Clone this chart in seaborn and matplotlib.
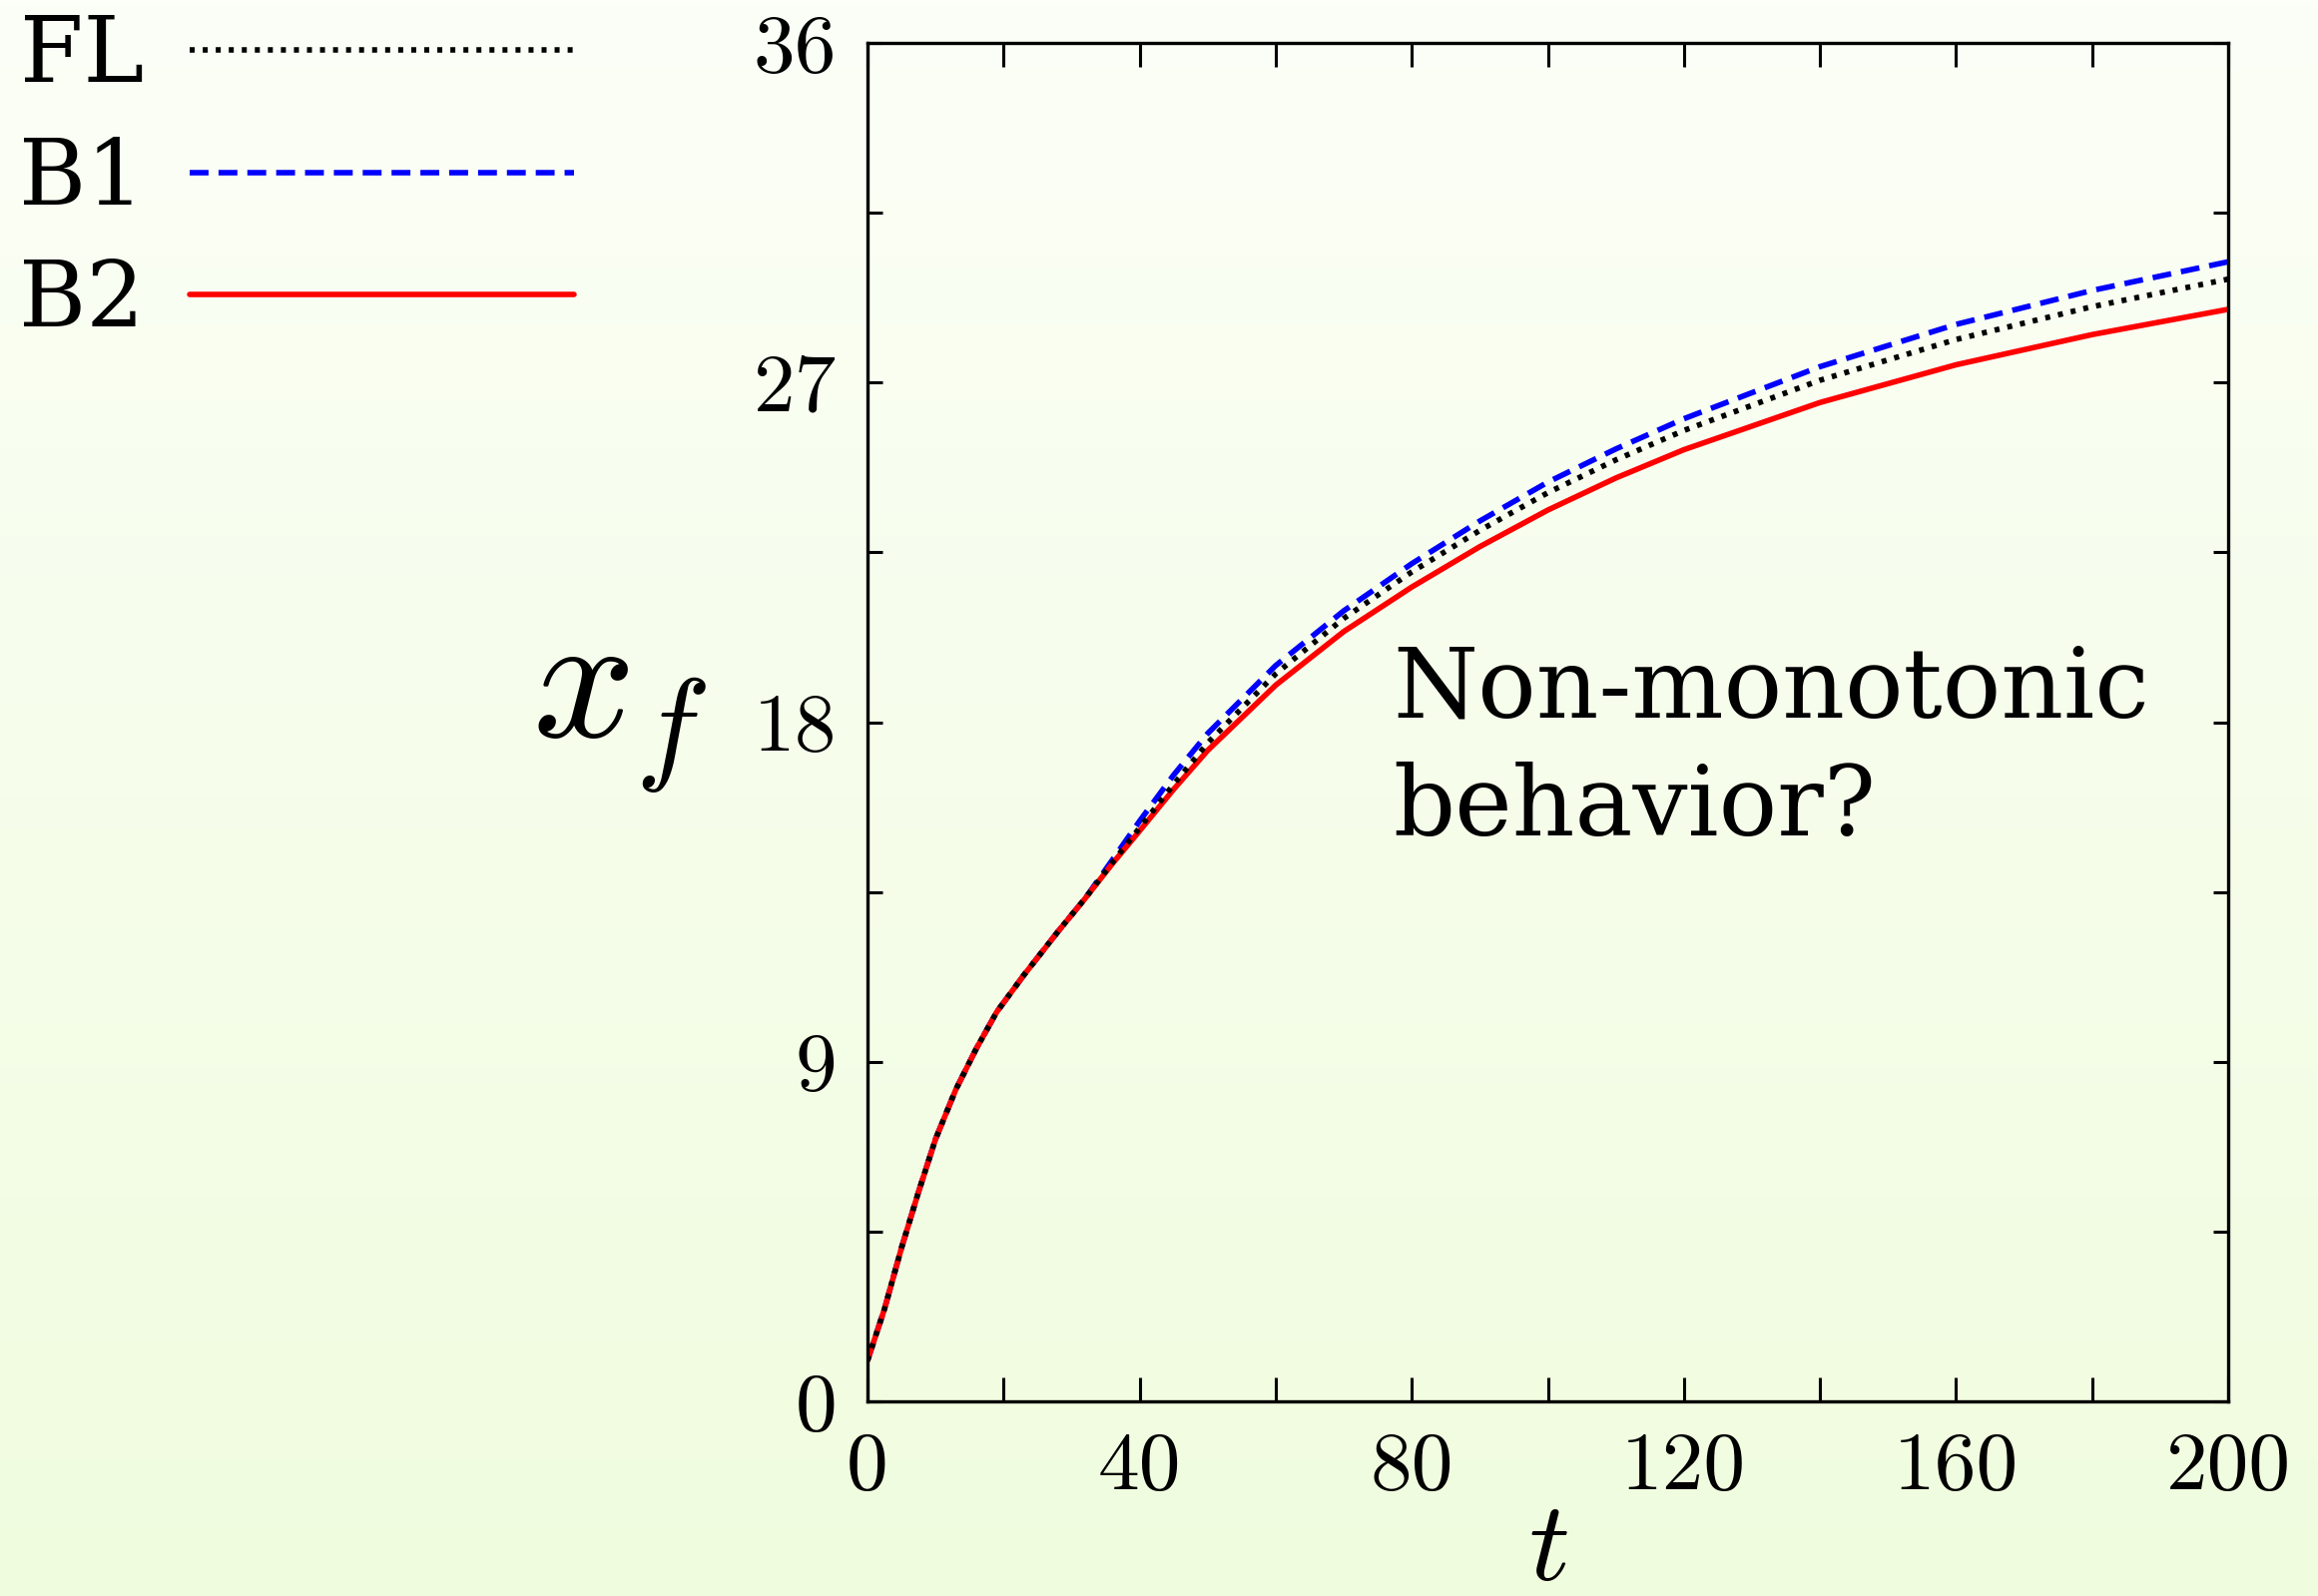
import numpy as np
import pandas as pd
import matplotlib
matplotlib.use("Agg")
import matplotlib.pyplot as plt
from matplotlib.colors import LinearSegmentedColormap
import seaborn as sns

# Front position x_f versus time for the three models
t_vals = [0, 2.5, 5, 7.5, 10, 13, 16, 19, 23, 28, 32, 36, 40, 45, 50, 60, 70, 80,
          90, 100, 110, 120, 140, 160, 180, 200]
xf_FL = [1.08, 2.45, 4.07, 5.55, 6.95, 8.27, 9.35, 10.32, 11.30, 12.45, 13.33,
         14.28, 15.20, 16.35, 17.45, 19.28, 20.75, 21.98, 23.08, 24.08, 24.95,
         25.73, 27.06, 28.14, 29.01, 29.74]
xf_B1 = [1.08, 2.45, 4.07, 5.55, 6.95, 8.27, 9.35, 10.32, 11.30, 12.45, 13.33,
         14.35, 15.38, 16.60, 17.70, 19.50, 20.95, 22.20, 23.33, 24.36, 25.24,
         26.04, 27.42, 28.54, 29.44, 30.20]
xf_B2 = [1.08, 2.45, 4.07, 5.55, 6.95, 8.27, 9.35, 10.32, 11.30, 12.45, 13.33,
         14.25, 15.12, 16.22, 17.25, 18.98, 20.40, 21.58, 22.65, 23.62, 24.47,
         25.22, 26.47, 27.47, 28.27, 28.94]

x_ticks = list(range(0, 201, 20))
x_labeled = [0, 40, 80, 120, 160, 200]
y_ticks = [0, 4.5, 9, 13.5, 18, 22.5, 27, 31.5, 36]
y_labeled = [0, 9, 18, 27, 36]

df = pd.DataFrame({"t": t_vals, "FL": xf_FL, "B1": xf_B1, "B2": xf_B2})

sns.set_theme(style="ticks")
plt.rcParams["font.family"] = ["cmr10", "DejaVu Serif"]
plt.rcParams["mathtext.fontset"] = "cm"
plt.rcParams["axes.formatter.use_mathtext"] = True
plt.rcParams["text.color"] = "black"
plt.rcParams["axes.labelcolor"] = "black"
plt.rcParams["xtick.color"] = "black"
plt.rcParams["ytick.color"] = "black"

fig = plt.figure(figsize=(11.61, 7.995), dpi=200)

# soft vertical gradient behind everything
bg = fig.add_axes([0, 0, 1, 1], zorder=-10)
grad = np.linspace(0, 1, 256).reshape(-1, 1)
cmap = LinearSegmentedColormap.from_list("bgfade", ["#F0FCDE", "#FCFFF7"])
bg.imshow(grad, aspect="auto", cmap=cmap, extent=[0, 1, 0, 1], origin="lower")
bg.set_axis_off()

ax = fig.add_axes([869 / 2322, 1 - 1404 / 1599, 1363 / 2322, 1361 / 1599])
ax.set_facecolor("none")

lw = 2.0
sns.lineplot(data=df, x="t", y="B1", ax=ax, color="#0000FF", lw=lw,
             linestyle=(0, (3.4, 1.8)), label="B1")
sns.lineplot(data=df, x="t", y="B2", ax=ax, color="#FF0000", lw=lw,
             linestyle="-", label="B2")
sns.lineplot(data=df, x="t", y="FL", ax=ax, color="black", lw=lw,
             linestyle=(0, (0.9, 1.45)), label="FL")

ax.set_xlim(0, 200)
ax.set_ylim(0, 36)

ax.set_xticks(x_ticks)
ax.set_xticklabels([str(v) if v in x_labeled else "" for v in x_ticks])
ax.set_yticks(y_ticks)
ax.set_yticklabels([f"{v:g}" if v in y_labeled else "" for v in y_ticks])
ax.tick_params(axis="both", direction="in", top=True, right=True,
               width=1.1, labelsize=30, colors="black")
ax.tick_params(axis="x", length=8.6, pad=11)
ax.tick_params(axis="y", length=5.4, pad=11)

for sp in ax.spines.values():
    sp.set_visible(True)
    sp.set_linewidth(1.2)
    sp.set_color("black")

ax.set_xlabel(r"$t$", fontsize=41, labelpad=0)
ax.xaxis.set_label_coords(0.5, -0.074)
ax.xaxis.label.set_va("top")
ax.set_ylabel(r"$x_{f}$", fontsize=65, rotation=0, ha="right", va="center")
ax.yaxis.set_label_coords(-0.118, 0.505)

ax.text(77.2, 20.1, "Non-monotonic\nbehavior?", fontsize=35, color="black",
        family="DejaVu Serif", ha="left", va="top", linespacing=1.33)

handles, labels = ax.get_legend_handles_labels()
order = [labels.index(n) for n in ["FL", "B1", "B2"]]
leg = ax.legend([handles[i] for i in order], [labels[i] for i in order],
                loc="upper left", bbox_to_anchor=(0.008, 0.992),
                bbox_transform=fig.transFigure, frameon=False,
                markerfirst=False, handlelength=4.2, handletextpad=0.5,
                labelspacing=0.37, borderpad=0, borderaxespad=0,
                prop={"family": "DejaVu Serif", "size": 33})
for txt in leg.get_texts():
    txt.set_color("black")

fig.savefig("out.png", dpi=200)
